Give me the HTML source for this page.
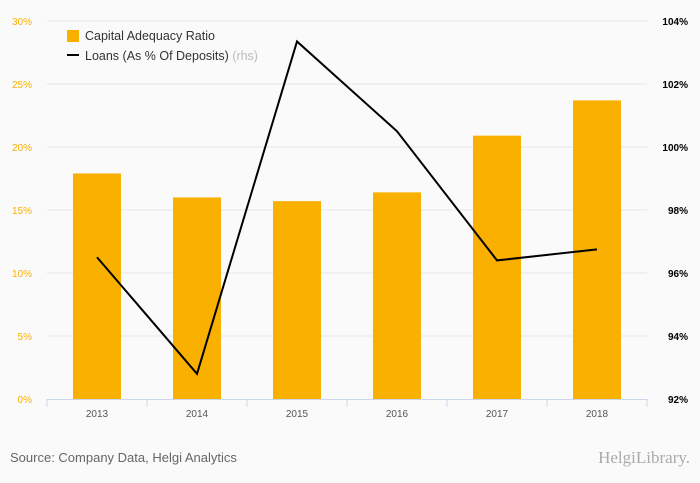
<!DOCTYPE html>
<html><head><meta charset="utf-8"><style>
body{margin:0;background:#fafafa;font-family:"Liberation Sans",sans-serif}
svg{display:block}
</style></head><body>
<svg width="700" height="483">
<rect width="700" height="483" fill="#fafafa"/>
<g id="grid"></g><g id="bars"></g><g id="axes"></g><g id="line"></g>
<g>
<rect x="67" y="30" width="12" height="12" fill="#f9b000"/>
<text x="85" y="40" font-size="12.5" fill="#333">Capital Adequacy Ratio</text>
<rect x="67" y="54" width="12" height="2" fill="#000"/>
<text x="85" y="60" font-size="12.5" fill="#333">Loans (As % Of Deposits) <tspan fill="#bbb">(rhs)</tspan></text>
</g>
<text x="10" y="462" font-size="13" fill="#666">Source: Company Data, Helgi Analytics</text>
<text x="690" y="463" font-size="17" fill="#aaa" text-anchor="end" font-family="Liberation Serif,serif">HelgiLibrary.</text>
</svg>
<script>
const categories=["2013","2014","2015","2016","2017","2018"];
const carValues=[17.9,16.0,15.7,16.4,20.9,23.7];
const loanValues=[96.5,92.8,103.35,100.5,96.4,96.75];
const leftTicks=[0,5,10,15,20,25,30];
const rightTicks=[92,94,96,98,100,102,104];
const NS="http://www.w3.org/2000/svg";
const x0=47,bw=100,yTop=21,yBot=399;
const yL=v=>yBot-(v/30)*(yBot-yTop);
const yR=v=>yBot-((v-92)/12)*(yBot-yTop);
const xc=i=>x0+bw*i+bw/2;
function mk(t,a,p){const e=document.createElementNS(NS,t);for(const k in a)e.setAttribute(k,a[k]);document.getElementById(p).appendChild(e);return e;}
leftTicks.forEach((v,i)=>{
 if(v>0){const g=mk('line',{x1:x0,x2:647,y1:yL(v),y2:yL(v),stroke:'#e6e6e6'},'grid');
 
 }
 const t=mk('text',{x:32,y:yL(v)+4,'font-size':10,fill:'#f9b000','text-anchor':'end'},'axes');t.textContent=v+'%';
 
 
});
rightTicks.forEach(v=>{
 const t=mk('text',{x:688,y:yR(v)+4,'font-size':10,fill:'#000','text-anchor':'end','font-weight':'bold'},'axes');t.textContent=v+'%';
 
 
});
carValues.forEach((v,i)=>{
 const r=mk('rect',{x:xc(i)-24,y:yL(v),width:48,height:yBot-yL(v),fill:'#f9b000'},'bars');
 
 
});
const ax=mk('line',{x1:x0,x2:647,y1:yBot+0.5,y2:yBot+0.5,stroke:'#ccd6eb'},'axes');


for(let i=0;i<=categories.length;i++){const tk=mk('line',{x1:x0+bw*i,x2:x0+bw*i,y1:yBot,y2:yBot+8,stroke:'#ccd6eb'},'axes');
 
 }
categories.forEach((c,i)=>{const t=mk('text',{x:xc(i),y:417,'font-size':10,fill:'#555','text-anchor':'middle'},'axes');t.textContent=c;
 
 });
const pl=mk('polyline',{points:loanValues.map((v,i)=>xc(i)+','+yR(v)).join(' '),fill:'none',stroke:'#000','stroke-width':2},'line');


</script>
</body></html>
